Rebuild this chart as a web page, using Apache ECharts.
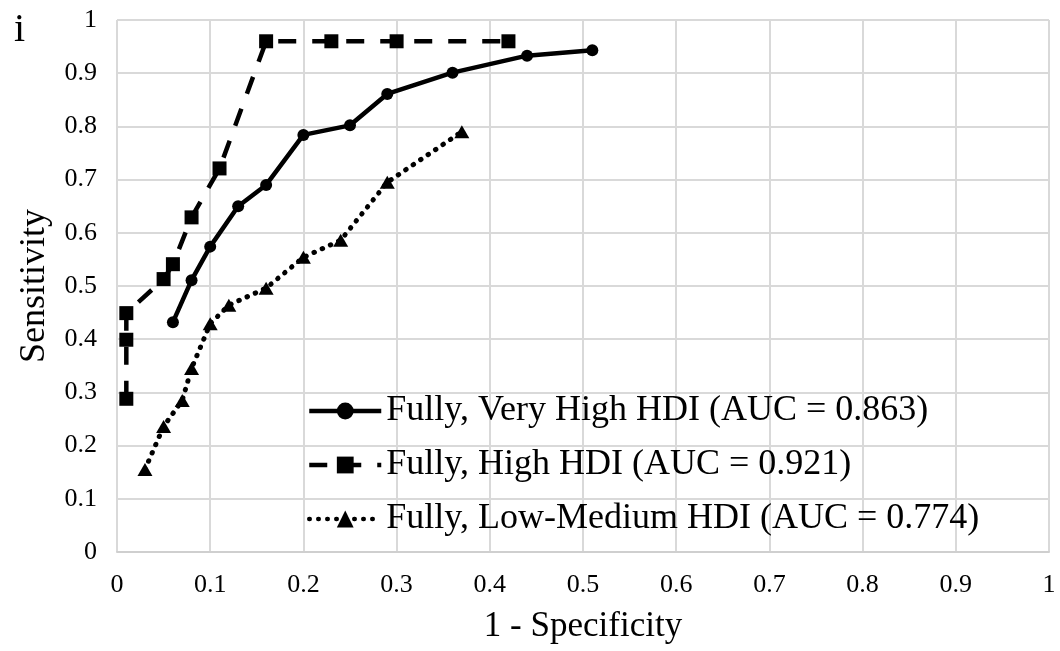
<!DOCTYPE html>
<html>
<head>
<meta charset="utf-8">
<title>ROC curves by HDI group</title>
<script src="https://cdn.jsdelivr.net/npm/echarts@6/dist/echarts.min.js"></script>
<style>
  html, body { margin: 0; padding: 0; background: #ffffff; }
  #chart { width: 1060px; height: 651px; }
</style>
</head>
<body>
<div id="chart"></div>
<script>
// ROC points (1 - specificity, sensitivity) for each HDI group
const veryHighX = [0.06, 0.08, 0.10, 0.13, 0.16, 0.20, 0.25, 0.29, 0.36, 0.44, 0.51];
const veryHighY = [0.432, 0.511, 0.574, 0.650, 0.690, 0.784, 0.802, 0.861, 0.901, 0.933, 0.943];

const highX = [0.01, 0.01, 0.01, 0.05, 0.06, 0.08, 0.11, 0.16, 0.23, 0.30, 0.42];
const highY = [0.288, 0.399, 0.449, 0.513, 0.541, 0.629, 0.721, 0.960, 0.960, 0.960, 0.960];

const lowMedX = [0.03, 0.05, 0.07, 0.08, 0.10, 0.12, 0.16, 0.20, 0.24, 0.29, 0.37];
const lowMedY = [0.155, 0.236, 0.285, 0.345, 0.429, 0.464, 0.496, 0.554, 0.586, 0.695, 0.790];

const seriesNames = [
  'Fully, Very High HDI (AUC = 0.863)',
  'Fully, High HDI (AUC = 0.921)',
  'Fully, Low-Medium HDI (AUC = 0.774)'
];

const FONT = '"Liberation Serif", "Times New Roman", serif';

function pairs(xs, ys) {
  return xs.map((x, i) => [x, ys[i]]);
}

const chart = echarts.init(document.getElementById('chart'), null, { renderer: 'canvas' });

const gridColor = '#d9d9d9';

chart.setOption({
  animation: false,
  backgroundColor: '#ffffff',
  textStyle: { fontFamily: FONT, color: '#000' },
  title: {
    text: 'i',
    left: 9,
    top: 5,
    textStyle: { fontFamily: FONT, fontSize: 40, fontWeight: 'normal', color: '#000' }
  },
  grid: { left: 117, right: 11, top: 20, bottom: 99, containLabel: false },
  legend: {
    orient: 'vertical',
    left: 302,
    top: 388,
    itemWidth: 72,
    itemHeight: 21,
    itemGap: 18,
    lineStyle: { width: 4.5 },
    textStyle: { fontFamily: FONT, fontSize: 36, color: '#000' },
    data: seriesNames
  },
  xAxis: {
    type: 'value',
    min: 0,
    max: 1,
    interval: 0.1,
    name: '1 - Specificity',
    nameLocation: 'middle',
    nameGap: 57,
    nameTextStyle: { fontFamily: FONT, fontSize: 35, color: '#000' },
    axisLine: { show: true, lineStyle: { color: '#cfcfcf', width: 2 } },
    axisTick: { show: false },
    axisLabel: { fontFamily: FONT, fontSize: 26, color: '#000', margin: 20 },
    splitLine: { show: true, lineStyle: { color: gridColor, width: 2 } }
  },
  yAxis: {
    type: 'value',
    min: 0,
    max: 1,
    interval: 0.1,
    name: 'Sensitivity',
    nameLocation: 'middle',
    nameGap: 64,
    nameTextStyle: { fontFamily: FONT, fontSize: 36, color: '#000' },
    axisLine: { show: false },
    axisTick: { show: false },
    axisLabel: { fontFamily: FONT, fontSize: 26, color: '#000', margin: 20 },
    splitLine: { show: true, lineStyle: { color: gridColor, width: 2 } }
  },
  series: [
    {
      name: seriesNames[0],
      type: 'line',
      data: pairs(veryHighX, veryHighY),
      symbol: 'circle',
      symbolSize: 12,
      showAllSymbol: true,
      lineStyle: { color: '#000', width: 4.5, type: 'solid' },
      itemStyle: { color: '#000' },
      z: 3
    },
    {
      name: seriesNames[1],
      type: 'line',
      data: pairs(highX, highY),
      symbol: 'rect',
      symbolSize: 14,
      showAllSymbol: true,
      lineStyle: { color: '#000', width: 4.5, type: [18, 16] },
      itemStyle: { color: '#000' },
      z: 3
    },
    {
      name: seriesNames[2],
      type: 'line',
      data: pairs(lowMedX, lowMedY),
      symbol: 'triangle',
      symbolSize: [15, 13],
      showAllSymbol: true,
      lineStyle: { color: '#000', width: 5, type: [0.5, 8.5], cap: 'round' },
      itemStyle: { color: '#000' },
      z: 3
    }
  ]
});
</script>
</body>
</html>
